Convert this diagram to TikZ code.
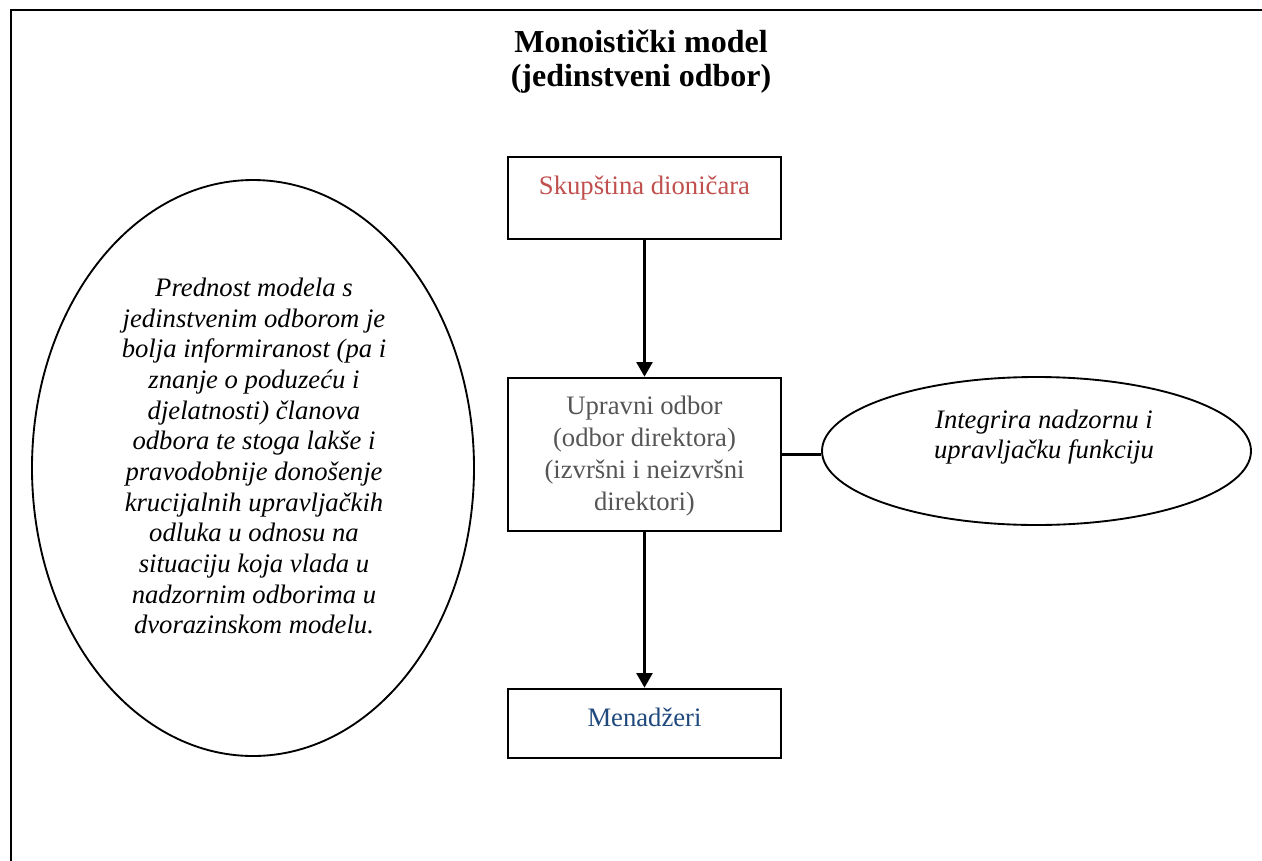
\documentclass[tikz,border=0pt]{standalone}
\usepackage{fontspec}
\setmainfont{Liberation Serif}
\usetikzlibrary{shapes.geometric,arrows.meta}
\definecolor{redtxt}{HTML}{C0504D}
\definecolor{graytxt}{HTML}{555555}
\definecolor{bluetxt}{HTML}{1F497D}
\begin{document}
\begin{tikzpicture}[x=0.75pt,y=-0.75pt,
  boxshape/.style={draw,line width=2pt,minimum width=204.75pt,inner sep=0pt},
  ellshape/.style={draw,ellipse,line width=1.4pt,inner sep=0pt},
  bodytxt/.style={font=\fontsize{20}{24}\selectfont,align=center,inner sep=0pt},
  itxt/.style={font=\fontsize{20}{23}\selectfont\itshape,align=center,inner sep=0pt},
  arr/.style={line width=2pt,-{Triangle[width=12pt,length=11pt]}},
  conn/.style={line width=1.6pt}]
\useasboundingbox (0,0) rectangle (1262,860);
% frame
\coordinate (fbl) at (11,862);
\coordinate (ftl) at (11,10);
\coordinate (ftr) at (1264,10);
\draw[line width=1.8pt] (fbl) -- (ftl) -- (ftr);
% title
\node[font=\fontsize{24}{25.5}\selectfont\bfseries,align=center,inner sep=0pt] (title) at (641,62) {Monoistički model\\(jedinstveni odbor)};
% boxes
\node[boxshape,minimum height=61.5pt] (skup) at (644.5,198) {};
\node[bodytxt,anchor=base,text=redtxt] (skuptxt) at (644.5,194) {Skupština dioničara};
\node[boxshape,minimum height=114.75pt] (upr) at (644.5,454.5) {};
\node[bodytxt,text=graytxt] (uprtxt) at (644.5,456) {Upravni odbor\\(odbor direktora)\\(izvršni i neizvršni\\direktori)};
\node[boxshape,minimum height=51.75pt] (men) at (644.5,723.5) {};
\node[bodytxt,anchor=base,text=bluetxt] (mentxt) at (644.5,726) {Menadžeri};
% ellipses
\node[ellshape,minimum width=331.5pt,minimum height=432pt] (lell) at (253,468) {};
\node[itxt] (lelltxt) at (254,456) {Prednost modela s\\jedinstvenim odborom je\\bolja informiranost (pa i\\znanje o poduzeću i\\djelatnosti) članova\\odbora te stoga lakše i\\pravodobnije donošenje\\krucijalnih upravljačkih\\odluka u odnosu na\\situaciju koja vlada u\\nadzornim odborima u\\dvorazinskom modelu.};
\node[ellshape,minimum width=321.75pt,minimum height=111pt] (rell) at (1036.5,451) {};
\node[itxt] (relltxt) at (1044,437) {Integrira nadzornu i\\upravljačku funkciju};
% connectors
\draw[arr] (skup.south) -- (upr.north);
\draw[arr] (upr.south) -- (men.north);
\draw[conn] (upr.east) -- (upr.east -| rell.west);
\end{tikzpicture}
\end{document}
